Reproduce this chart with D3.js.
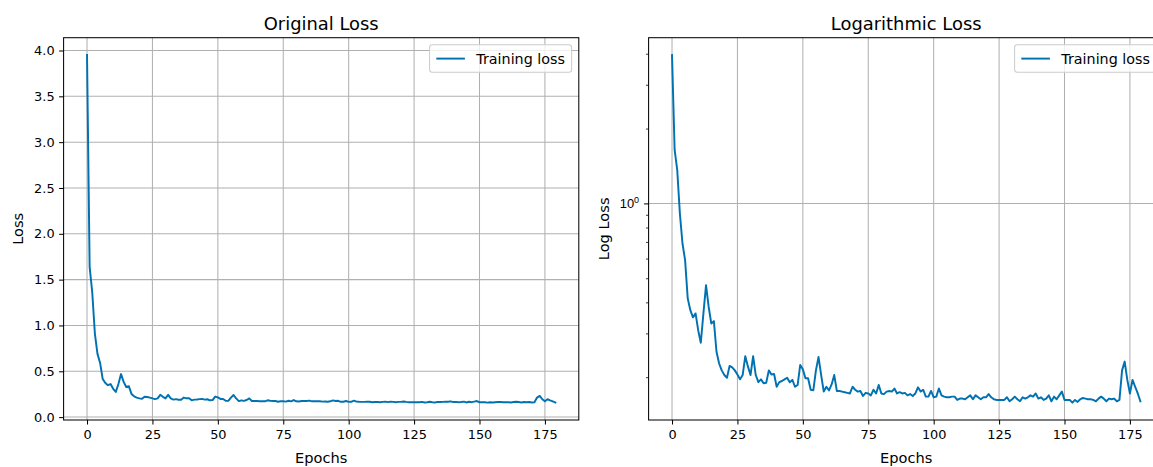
<!DOCTYPE html>
<html>
<head>
<meta charset="utf-8">
<script src="https://cdn.jsdelivr.net/npm/d3@7"></script>
<style>
  html, body { margin: 0; padding: 0; background: #ffffff; }
  svg { display: block; font-family: "DejaVu Sans", sans-serif; }
</style>
</head>
<body>
<svg id="chart" width="1153" height="467"></svg>
<script>
// Training loss per epoch (epochs 0..179)
const epochs = d3.range(0, 180);
const trainingLoss = [
  3.95, 1.64, 1.36, 0.912, 0.69, 0.591, 0.415, 0.372, 0.348, 0.361,
  0.309, 0.275, 0.361, 0.469, 0.384, 0.329, 0.336, 0.253, 0.227, 0.213,
  0.204, 0.199, 0.222, 0.219, 0.213, 0.205, 0.196, 0.204, 0.243, 0.221,
  0.204, 0.243, 0.204, 0.191, 0.196, 0.189, 0.190, 0.213, 0.205, 0.206,
  0.183, 0.191, 0.193, 0.196, 0.199, 0.191, 0.195, 0.183, 0.186, 0.224,
  0.215, 0.198, 0.198, 0.178, 0.177, 0.213, 0.241, 0.204, 0.175, 0.183,
  0.177, 0.187, 0.204, 0.176, 0.176, 0.175, 0.174, 0.173, 0.172, 0.183,
  0.178, 0.175, 0.176, 0.168, 0.173, 0.172, 0.169, 0.178, 0.172, 0.186,
  0.172, 0.171, 0.175, 0.176, 0.175, 0.180, 0.172, 0.174, 0.172, 0.173,
  0.169, 0.171, 0.168, 0.172, 0.182, 0.175, 0.178, 0.167, 0.167, 0.176,
  0.166, 0.167, 0.180, 0.169, 0.167, 0.166, 0.166, 0.167, 0.167, 0.162,
  0.164, 0.164, 0.163, 0.166, 0.169, 0.163, 0.169, 0.166, 0.163, 0.166,
  0.166, 0.171, 0.166, 0.163, 0.162, 0.162, 0.162, 0.162, 0.166, 0.160,
  0.163, 0.167, 0.163, 0.160, 0.166, 0.164, 0.166, 0.169, 0.167, 0.172,
  0.164, 0.166, 0.162, 0.164, 0.169, 0.160, 0.167, 0.163, 0.169, 0.175,
  0.162, 0.162, 0.162, 0.158, 0.162, 0.159, 0.163, 0.165, 0.164, 0.163,
  0.163, 0.162, 0.160, 0.164, 0.167, 0.164, 0.160, 0.164, 0.163, 0.164,
  0.160, 0.162, 0.213, 0.231, 0.195, 0.172, 0.195, 0.183, 0.172, 0.160
];

// Axis ticks
const xTicks = [0, 25, 50, 75, 100, 125, 150, 175];
const linearYTicks = [0.0, 0.5, 1.0, 1.5, 2.0, 2.5, 3.0, 3.5, 4.0];
const logMajorTicks = [1];
const logMinorTicks = [0.2, 0.3, 0.4, 0.5, 0.6, 0.7, 0.8, 0.9, 2, 3, 4];

const titles = ["Original Loss", "Logarithmic Loss"];
const yLabels = ["Loss", "Log Loss"];
const xLabel = "Epochs";
const seriesName = "Training loss";

const lineColor = "#0072B2";
const gridColor = "#b0b0b0";
const tickFont = 12.9;

const svg = d3.select("#chart");
const plotTop = 37.7, plotBottom = 420;
const panels = [
  { left: 63.6, right: 578.8, log: false },
  { left: 648.6, right: 1163.8, log: true }
];

const points = epochs.map((e, i) => ({ e, v: trainingLoss[i] }));

// axis limits padded by 5% of the data span, as in matplotlib autoscaling
function padded(lo, hi) {
  const m = (hi - lo) * 0.05;
  return [lo - m, hi + m];
}
const xDomain = padded(d3.min(epochs), d3.max(epochs));
const [vMin, vMax] = d3.extent(trainingLoss);
const linDomain = padded(vMin, vMax);
const logPad = padded(Math.log10(vMin), Math.log10(vMax));
const logDomain = [Math.pow(10, logPad[0]), Math.pow(10, logPad[1])];

panels.forEach((p, idx) => {
  const g = svg.append("g");
  const w = p.right - p.left;
  const clipId = "clip" + idx;
  g.append("clipPath").attr("id", clipId)
    .append("rect").attr("x", p.left).attr("y", plotTop).attr("width", w).attr("height", plotBottom - plotTop);

  const x = d3.scaleLinear().domain(xDomain).range([p.left, p.right]);
  const y = p.log
    ? d3.scaleLog().domain(logDomain).range([plotBottom, plotTop])
    : d3.scaleLinear().domain(linDomain).range([plotBottom, plotTop]);

  // grid
  const grid = g.append("g").attr("clip-path", `url(#${clipId})`);
  grid.selectAll("line.vx").data(xTicks).join("line")
    .attr("x1", d => x(d)).attr("x2", d => x(d))
    .attr("y1", plotTop).attr("y2", plotBottom)
    .attr("stroke", gridColor).attr("stroke-width", 1.03);
  const yGrid = p.log ? logMajorTicks : linearYTicks;
  grid.selectAll("line.hy").data(yGrid).join("line")
    .attr("x1", p.left).attr("x2", p.right)
    .attr("y1", d => y(d)).attr("y2", d => y(d))
    .attr("stroke", gridColor).attr("stroke-width", 1.03);

  // loss curve
  const line = d3.line().x(d => x(d.e)).y(d => y(d.v));
  g.append("path").datum(points)
    .attr("clip-path", `url(#${clipId})`)
    .attr("d", line)
    .attr("fill", "none")
    .attr("stroke", lineColor)
    .attr("stroke-width", 1.95)
    .attr("stroke-linejoin", "round")
    .attr("stroke-linecap", "square");

  // x axis
  const xAxis = d3.axisBottom(x).tickValues(xTicks).tickSize(4.5).tickPadding(5.5).tickSizeOuter(0)
    .tickFormat(d3.format("d"));
  const xg = g.append("g").attr("transform", `translate(0,${plotBottom})`).call(xAxis);
  xg.select(".domain").remove();
  xg.selectAll("line").attr("stroke", "#000").attr("stroke-width", 1.03);
  xg.selectAll("text").attr("font-size", tickFont).attr("font-family", "DejaVu Sans").attr("fill", "#000");

  // y axis
  if (!p.log) {
    const yAxis = d3.axisLeft(y).tickValues(linearYTicks).tickSize(4.5).tickPadding(4.5).tickSizeOuter(0)
      .tickFormat(d3.format(".1f"));
    const yg = g.append("g").attr("transform", `translate(${p.left},0)`).call(yAxis);
    yg.select(".domain").remove();
    yg.selectAll("line").attr("stroke", "#000").attr("stroke-width", 1.03);
    yg.selectAll("text").attr("font-size", tickFont).attr("font-family", "DejaVu Sans").attr("fill", "#000");
  } else {
    const minor = d3.axisLeft(y).tickValues(logMinorTicks).tickSize(2.6).tickFormat("").tickSizeOuter(0);
    const mg = g.append("g").attr("transform", `translate(${p.left},0)`).call(minor);
    mg.select(".domain").remove();
    mg.selectAll("line").attr("stroke", "#000").attr("stroke-width", 0.78);

    const major = d3.axisLeft(y).tickValues(logMajorTicks).tickSize(4.5).tickPadding(4.5).tickSizeOuter(0)
      .tickFormat("");
    const jg = g.append("g").attr("transform", `translate(${p.left},0)`).call(major);
    jg.select(".domain").remove();
    jg.selectAll("line").attr("stroke", "#000").attr("stroke-width", 1.03);
    jg.selectAll(".tick").each(function (d) {
      const t = d3.select(this).append("text")
        .attr("x", -9.5).attr("dy", "0.32em")
        .attr("text-anchor", "end").attr("font-size", tickFont).attr("fill", "#000");
      t.append("tspan").text("10");
      t.append("tspan").attr("dy", "-0.55em").attr("font-size", tickFont * 0.7)
        .text(String(Math.round(Math.log10(d))));
    });
  }

  // spines
  g.append("rect")
    .attr("x", p.left).attr("y", plotTop).attr("width", w).attr("height", plotBottom - plotTop)
    .attr("fill", "none").attr("stroke", "#000").attr("stroke-width", 1.03);

  // title
  const cx = (p.left + p.right) / 2;
  g.append("text").attr("x", cx).attr("y", 30).attr("text-anchor", "middle")
    .attr("font-size", 17.9).attr("fill", "#000").text(titles[idx]);

  // axis labels
  g.append("text").attr("x", cx).attr("y", 463).attr("text-anchor", "middle")
    .attr("font-size", 14.6).attr("fill", "#000").text(xLabel);
  const ylx = p.log ? 609 : 22.5;
  g.append("text")
    .attr("transform", `translate(${ylx},${(plotTop + plotBottom) / 2}) rotate(-90)`)
    .attr("text-anchor", "middle").attr("font-size", 14.6).attr("fill", "#000")
    .text(yLabels[idx]);

  // legend
  const fs = 14.3;
  const pad = 0.4 * fs, handleLen = 2 * fs, handleGap = 0.8 * fs;
  const lg = g.append("g");
  const txt = lg.append("text").attr("font-size", fs).attr("fill", "#000").text(seriesName);
  const tw = txt.node().getComputedTextLength();
  const boxW = pad * 2 + handleLen + handleGap + tw + 2;
  const boxH = 27.5;
  const bx = p.right - 0.5 * fs - boxW;
  const by = plotTop + 0.5 * fs;
  lg.insert("rect", "text")
    .attr("x", bx).attr("y", by).attr("width", boxW).attr("height", boxH)
    .attr("rx", 2.8).attr("ry", 2.8)
    .attr("fill", "#ffffff").attr("fill-opacity", 0.8)
    .attr("stroke", "#cccccc").attr("stroke-width", 1.03);
  const midY = by + boxH / 2;
  lg.insert("line", "text")
    .attr("x1", bx + pad + 1).attr("x2", bx + pad + 1 + handleLen)
    .attr("y1", midY).attr("y2", midY)
    .attr("stroke", lineColor).attr("stroke-width", 1.95);
  txt.attr("x", bx + pad + 1 + handleLen + handleGap).attr("y", midY).attr("dy", "0.36em");
});
</script>
</body>
</html>
